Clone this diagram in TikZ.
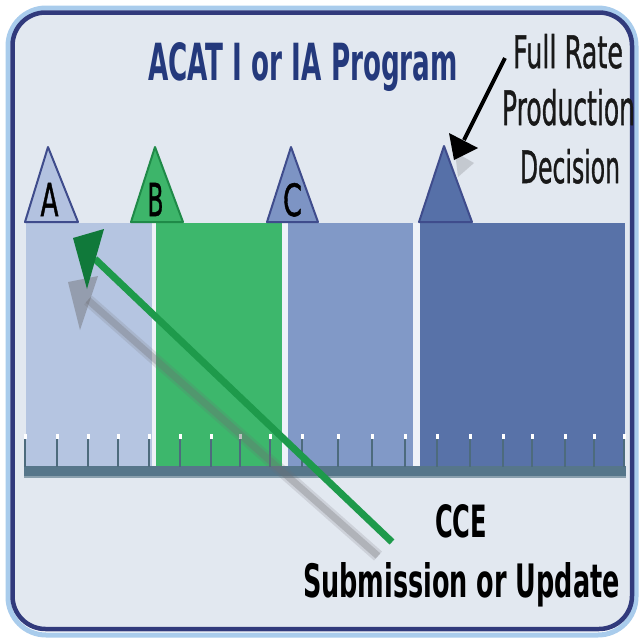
\documentclass[tikz,border=0pt]{standalone}
\usepackage{fontspec}
\setmainfont{DejaVu Sans}
\newfontfamily\medfont[FakeBold=1.2]{DejaVu Sans}
\usepackage{graphicx}
\definecolor{framelight}{HTML}{A9CCEC}
\definecolor{framenavy}{HTML}{313A7C}
\definecolor{bgfill}{HTML}{E2E8F0}
\definecolor{gapw}{HTML}{EEF2F8}
\definecolor{barA}{HTML}{B5C5E1}
\definecolor{barB}{HTML}{3DB76C}
\definecolor{barC}{HTML}{8199C7}
\definecolor{barD}{HTML}{5872A8}
\definecolor{triA}{HTML}{B3C2E0}
\definecolor{triB}{HTML}{3DB56A}
\definecolor{triC}{HTML}{7D94C4}
\definecolor{triD}{HTML}{5670A8}
\definecolor{trinavy}{HTML}{3F4C8C}
\definecolor{trigreen}{HTML}{1F8A48}
\definecolor{titleblue}{HTML}{24397C}
\definecolor{axiscol}{HTML}{56768A}
\definecolor{tickcol}{HTML}{4D6B7D}
\definecolor{greenline}{HTML}{1E9A4B}
\definecolor{greenhead}{HTML}{10793A}
\definecolor{shadowgray}{HTML}{6E6E72}
\begin{document}
\begin{tikzpicture}[x=1pt,y=-1pt,
  txt/.style={anchor=base west,inner sep=0pt,outer sep=0pt},
  tri/.style={line width=2pt,line join=round},
  tickline/.style={tickcol,line width=2.7pt}]
\useasboundingbox (0,0) rectangle (639,641);
\fill[white] (0,0) rectangle (639,641);
% frame
\draw[framelight,line width=5pt,rounded corners=38pt] (8,8) rectangle (636,635);
\draw[framenavy,fill=bgfill,line width=4.5pt,rounded corners=33pt] (12.5,12.5) rectangle (632,629);
% bars
\fill[barA] (26,223) rectangle (152,467);
\fill[gapw] (152,223) rectangle (156,467);
\fill[barB] (156,223) rectangle (282,467);
\fill[gapw] (282,223) rectangle (288,467);
\fill[barC] (288,223) rectangle (413,467);
\fill[gapw] (413,223) rectangle (420,467);
\fill[barD] (420,223) rectangle (625,467);
% axis
\fill[axiscol] (24,466) rectangle (626,478);
\fill[axiscol!70!white] (24,476) rectangle (626,478);
\foreach \t in {25,57,88,118,149,180,211,240,270,302,338,372,405,437,470,503,532,565,594,624}{
  \draw[tickline] (\t,437) -- (\t,467);
  \fill[white] (\t-1.5,433.5) rectangle (\t+1.5,438.5);
}
% milestone triangles
\draw[tri,fill=triA,draw=trinavy] (48,147) -- (25,222) -- (78,222) -- cycle;
\draw[tri,fill=triB,draw=trigreen] (155,147) -- (131,222) -- (183,222) -- cycle;
\draw[tri,fill=triC,draw=trinavy] (291,147) -- (267,222) -- (318,222) -- cycle;
\draw[tri,fill=triD,draw=trinavy] (444,146) -- (419,222) -- (472,222) -- cycle;
\node[txt] (la) at (40.5,216) {\resizebox{18pt}{33pt}{\medfont A}};
\node[txt] (lb) at (147.5,216) {\resizebox{16pt}{33pt}{\medfont B}};
\node[txt] (lc) at (283,216) {\resizebox{19pt}{33pt}{\medfont C}};
% titles
\node[txt,text=titleblue] (title) at (148,80) {\resizebox{310pt}{38pt}{\bfseries ACAT I or IA Program}};
\node[txt,text=black!90] (frp1) at (513,68) {\resizebox{110pt}{34pt}{\medfont Full Rate}};
\node[txt,text=black!90] (frp2) at (502,125) {\resizebox{133pt}{36pt}{\medfont Production}};
\node[txt,text=black!90] (frp3) at (520,183) {\resizebox{100pt}{34pt}{\medfont Decision}};
\node[txt] (cce1) at (435,537) {\resizebox{52pt}{33pt}{\bfseries CCE}};
\node[txt] (cce2) at (303,597) {\resizebox{317pt}{35pt}{\bfseries Submission or Update}};
% arrow coordinates
\coordinate (gstart) at (392,542);
\coordinate (gback) at (95,259);
\coordinate (gtip) at (73,238);
\coordinate (sstart) at (378,556);
\coordinate (sback) at (88,300);
\coordinate (kstart) at (505,58);
\coordinate (kback) at (464,140);
\coordinate (ktip) at (454,160);
% grey shadow of green arrow
\draw[shadowgray,opacity=.18,line width=12pt] (sstart) -- (sback);
\draw[shadowgray,opacity=.3,line width=7pt] (sstart) -- (sback);
\fill[shadowgray,opacity=.45] (68,282) -- (98,276) -- (80,330) -- cycle;
% green arrow
\draw[greenline,line width=7pt] (gstart) -- (gback);
\fill[greenhead] (gtip) -- (104,229) -- (87,289) -- cycle;
% black arrow with shadow
\fill[shadowgray,opacity=.25] (458,177) -- (455,152) -- (474,163) -- cycle;
\draw[black,line width=4pt] (kstart) -- (kback);
\fill[black] (ktip) -- (449,133) -- (478,148) -- cycle;
\end{tikzpicture}
\end{document}
